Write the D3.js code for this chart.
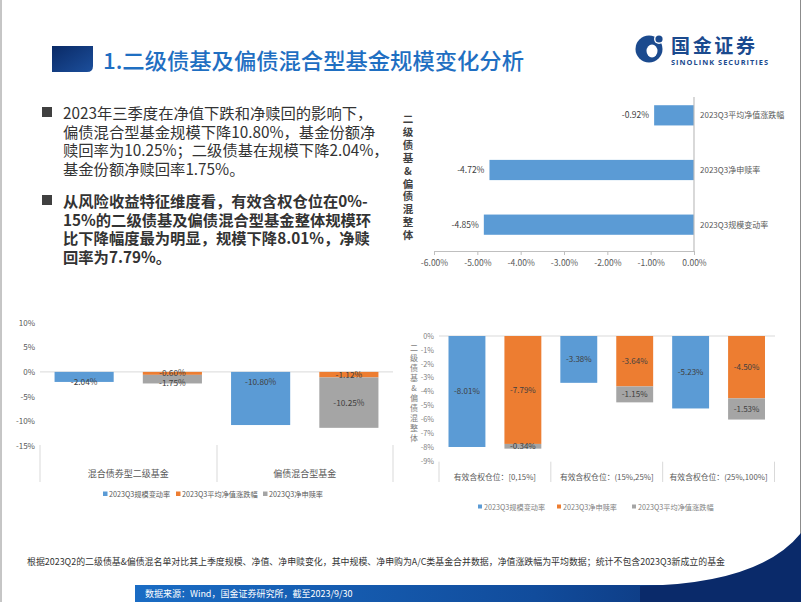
<!DOCTYPE html>
<html>
<head>
<meta charset="utf-8">
<script src="https://cdn.jsdelivr.net/npm/d3@7"></script>
<style>
  html, body { margin: 0; padding: 0; background: #fff; }
  svg { display: block; font-family: "Noto Sans CJK SC", "Noto Sans", sans-serif; }
</style>
</head>
<body>
<div id="slide"></div>
<script>
const W = 802, H = 602;
const FONT = '"Noto Sans CJK SC", "Noto Sans", sans-serif';
const BLUE = "#5b9bd5", ORANGE = "#ed7d31", GRAY = "#a5a5a5";

// top right chart
const topCats = ["2023Q3平均净值涨跌幅", "2023Q3净申赎率", "2023Q3规模变动率"];
const topVals = [-0.92, -4.72, -4.85];
const topTicks = [-6, -5, -4, -3, -2, -1, 0];

// bottom left chart
const blCats = ["混合债券型二级基金", "偏债混合型基金"];
const blScale = [-2.04, -10.80];
const blNav = [-0.60, -1.12];
const blFlow = [-1.75, -10.25];
const blTicks = [10, 5, 0, -5, -10, -15];

// bottom right chart
const brCats = ["有效含权仓位：[0,15%]", "有效含权仓位：(15%,25%]", "有效含权仓位：(25%,100%]"];
const brScale = [-8.01, -3.38, -5.23];
const brFlow = [-7.79, -3.64, -4.50];
const brNav = [-0.34, -1.15, -1.53];
const brTicks = [0, -1, -2, -3, -4, -5, -6, -7, -8, -9];

const axisTitle = "二级债基&偏债混整体";

const bullet1 = [
  "2023年三季度在净值下跌和净赎回的影响下，",
  "偏债混合型基金规模下降10.80%，基金份额净",
  "赎回率为10.25%；二级债基在规模下降2.04%，",
  "基金份额净赎回率1.75%。"
];
const bullet2 = [
  "从风险收益特征维度看，有效含权仓位在0%-",
  "15%的二级债基及偏债混合型基金整体规模环",
  "比下降幅度最为明显，规模下降8.01%，净赎",
  "回率为7.79%。"
];

const svg = d3.select("#slide").append("svg")
  .attr("width", W).attr("height", H)
  .attr("viewBox", `0 0 ${W} ${H}`);

const defs = svg.append("defs");
const g1 = defs.append("linearGradient").attr("id", "sq").attr("x1", 0).attr("y1", 0).attr("x2", 1).attr("y2", 1);
g1.append("stop").attr("offset", 0).attr("stop-color", "#0a2a66");
g1.append("stop").attr("offset", 1).attr("stop-color", "#1c4f9c");
const g2 = defs.append("linearGradient").attr("id", "band").attr("x1", 0).attr("y1", 0).attr("x2", 1).attr("y2", 0);
g2.append("stop").attr("offset", 0).attr("stop-color", "#1a6cc4");
g2.append("stop").attr("offset", 0.6).attr("stop-color", "#114c9c");
g2.append("stop").attr("offset", 1).attr("stop-color", "#0a2a6a");

// slide frame
svg.append("line").attr("x1", 1).attr("x2", 1).attr("y1", 0).attr("y2", H).attr("stroke", "#8c8c8c");
svg.append("line").attr("x1", 800.5).attr("x2", 800.5).attr("y1", 0).attr("y2", H).attr("stroke", "#8c8c8c");

// title
svg.append("path")
  .attr("d", "M52,46 H93 V66 Q93,72 87,72 H52 Z")
  .attr("fill", "url(#sq)");
svg.append("text").attr("x", 103).attr("y", 69)
  .attr("font-size", 22).attr("fill", "#1f6fc2").attr("font-weight", 500)
  .attr("textLength", 421).attr("lengthAdjust", "spacingAndGlyphs")
  .text("1.二级债基及偏债混合型基金规模变化分析");

// logo
const logo = svg.append("g");
logo.append("circle").attr("cx", 649).attr("cy", 49).attr("r", 13.5).attr("fill", "#1b4a8e");
logo.append("ellipse").attr("cx", 652).attr("cy", 51).attr("rx", 5.5).attr("ry", 6.5).attr("fill", "#fff");
logo.append("circle").attr("cx", 659).attr("cy", 39).attr("r", 5).attr("fill", "#fff");
logo.append("circle").attr("cx", 659).attr("cy", 39).attr("r", 3.6).attr("fill", "#1b4a8e");
logo.append("text").attr("x", 671).attr("y", 52.5).attr("font-size", 19).attr("font-weight", 700)
  .attr("fill", "#1b4a8e").attr("textLength", 84).text("国金证券");
logo.append("text").attr("x", 671).attr("y", 64.5).attr("font-size", 7.4).attr("font-weight", 700)
  .attr("fill", "#1b4a8e").attr("font-family", "'Open Sans', 'Noto Sans', sans-serif")
  .attr("textLength", 97).text("SINOLINK SECURITIES");

// bullets
function drawBullet(lines, y0, bold) {
  svg.append("rect").attr("x", 42).attr("y", y0 - 12).attr("width", 10).attr("height", 10).attr("fill", "#404040");
  lines.forEach((t, i) => {
    svg.append("text").attr("x", 63).attr("y", y0 + i * 18.6)
      .attr("font-size", 15.3).attr("fill", "#333")
      .attr("font-weight", bold ? 700 : 400)
      .text(t);
  });
}
drawBullet(bullet1, 119, false);
drawBullet(bullet2, 207, true);

function pct2(v) { return v.toFixed(2) + "%"; }

// ---------- top right horizontal bars ----------
{
  const x = d3.scaleLinear().domain([-6, 0]).range([434, 694]);
  const y = d3.scaleBand().domain(topCats).range([88, 252]).paddingInner(0.63).paddingOuter(0.315);
  const g = svg.append("g");

  g.selectAll("rect.bar").data(topCats).join("rect")
    .attr("x", (d, i) => x(topVals[i]))
    .attr("y", d => y(d))
    .attr("width", (d, i) => x(0) - x(topVals[i]))
    .attr("height", y.bandwidth())
    .attr("fill", BLUE);

  g.selectAll("text.val").data(topCats).join("text")
    .attr("x", (d, i) => x(topVals[i]) - 5)
    .attr("y", d => y(d) + y.bandwidth() / 2 + 3)
    .attr("text-anchor", "end").attr("font-size", 8.5).attr("fill", "#404040")
    .text((d, i) => pct2(topVals[i]));

  g.selectAll("text.cat").data(topCats).join("text")
    .attr("x", x(0) + 6)
    .attr("y", d => y(d) + y.bandwidth() / 2 + 3)
    .attr("font-size", 8).attr("fill", "#595959")
    .text(d => d);

  g.append("line").attr("x1", x(0)).attr("x2", x(0)).attr("y1", 97).attr("y2", 251)
    .attr("stroke", "#bfbfbf").attr("stroke-width", 1.2);

  const ax = g.append("g").attr("transform", "translate(0,251)")
    .call(d3.axisBottom(x).tickValues(topTicks).tickSize(4).tickFormat(d => pct2(d)));
  ax.select(".domain").attr("stroke", "#bfbfbf");
  ax.selectAll(".tick line").attr("stroke", "#bfbfbf");
  ax.selectAll(".tick text").attr("font-size", 8.5).attr("fill", "#595959")
    .attr("font-family", FONT).attr("dy", "0.9em");

  axisTitle.split("").forEach((c, i) => {
    g.append("text").attr("x", 408).attr("y", 123 + i * 12.9)
      .attr("text-anchor", "middle").attr("font-size", 10.5).attr("font-weight", 700)
      .attr("fill", "#404040").text(c);
  });
}

// stacked segment labels, nudged apart when too close
function stackLabels(g, cx, segs, y, fs) {
  let prev = -Infinity, base = 0;
  segs.forEach(v => {
    let cy = (y(base) + y(base + v)) / 2;
    if (cy - prev < 10) cy = prev + 10;
    g.append("text").attr("x", cx).attr("y", cy + 3)
      .attr("text-anchor", "middle").attr("font-size", fs).attr("fill", "#404040")
      .text(pct2(v));
    prev = cy;
    base += v;
  });
}

// ---------- bottom left grouped/stacked bars ----------
{
  const x0 = d3.scaleBand().domain(blCats).range([40, 393]);
  const x1 = d3.scaleBand().domain([0, 1]).range([0, x0.bandwidth()]).paddingInner(0.33).paddingOuter(0.165);
  const y = d3.scaleLinear().domain([-15, 10]).range([445.7, 322.7]);
  const g = svg.append("g");

  const ax = g.append("g").attr("transform", "translate(35,0)")
    .call(d3.axisLeft(y).tickValues(blTicks).tickSize(0).tickPadding(0).tickFormat(d => d + "%"));
  ax.select(".domain").remove();
  ax.selectAll(".tick text").attr("font-size", 8).attr("fill", "#595959").attr("font-family", FONT);

  g.append("line").attr("x1", 40).attr("x2", 393).attr("y1", y(0)).attr("y2", y(0))
    .attr("stroke", "#d9d9d9");

  blCats.forEach((c, i) => {
    const bx = x0(c) + x1(0);
    g.append("rect").attr("x", bx).attr("y", y(0)).attr("width", x1.bandwidth())
      .attr("height", y(blScale[i]) - y(0)).attr("fill", BLUE);
    g.append("text").attr("x", bx + x1.bandwidth() / 2).attr("y", y(0) + 13)
      .attr("text-anchor", "middle").attr("font-size", 8.3).attr("fill", "#404040")
      .text(pct2(blScale[i]));

    const sx = x0(c) + x1(1);
    g.append("rect").attr("x", sx).attr("y", y(0)).attr("width", x1.bandwidth())
      .attr("height", y(blNav[i]) - y(0)).attr("fill", ORANGE);
    g.append("rect").attr("x", sx).attr("y", y(blNav[i])).attr("width", x1.bandwidth())
      .attr("height", y(blNav[i] + blFlow[i]) - y(blNav[i])).attr("fill", GRAY);
    stackLabels(g, sx + x1.bandwidth() / 2, [blNav[i], blFlow[i]], y, 8.3);

    g.append("text").attr("x", x0(c) + x0.bandwidth() / 2).attr("y", 477)
      .attr("text-anchor", "middle").attr("font-size", 9).attr("fill", "#595959").text(c);
  });
  [40, 217, 393].forEach(v => {
    g.append("line").attr("x1", v).attr("x2", v).attr("y1", 445).attr("y2", 482)
      .attr("stroke", "#d9d9d9");
  });

  const legend = [["2023Q3规模变动率", BLUE, 103], ["2023Q3平均净值涨跌幅", ORANGE, 176], ["2023Q3净申赎率", GRAY, 263]];
  legend.forEach(([t, col, lx]) => {
    g.append("rect").attr("x", lx).attr("y", 491.5).attr("width", 4.5).attr("height", 4.5).attr("fill", col);
    g.append("text").attr("x", lx + 6).attr("y", 497).attr("font-size", 7.2).attr("fill", "#595959").text(t);
  });
}

// ---------- bottom right grouped/stacked bars ----------
{
  const x0 = d3.scaleBand().domain(brCats).range([439, 774.5]);
  const x1 = d3.scaleBand().domain([0, 1]).range([0, x0.bandwidth()]).paddingInner(0.34).paddingOuter(0.17);
  const y = d3.scaleLinear().domain([-9, 0]).range([460.7, 336]);
  const g = svg.append("g");

  const ax = g.append("g").attr("transform", "translate(434,0)")
    .call(d3.axisLeft(y).tickValues(brTicks).tickSize(0).tickPadding(0).tickFormat(d => d + "%"));
  ax.select(".domain").remove();
  ax.selectAll(".tick text").attr("font-size", 7.3).attr("fill", "#7f7f7f").attr("font-family", FONT);

  g.append("line").attr("x1", 439).attr("x2", 775).attr("y1", y(0)).attr("y2", y(0))
    .attr("stroke", "#d9d9d9");

  brCats.forEach((c, i) => {
    const bx = x0(c) + x1(0);
    g.append("rect").attr("x", bx).attr("y", y(0)).attr("width", x1.bandwidth())
      .attr("height", y(brScale[i]) - y(0)).attr("fill", BLUE);
    g.append("text").attr("x", bx + x1.bandwidth() / 2).attr("y", (y(0) + y(brScale[i])) / 2 + 3)
      .attr("text-anchor", "middle").attr("font-size", 8).attr("fill", "#404040")
      .text(pct2(brScale[i]));

    const sx = x0(c) + x1(1);
    g.append("rect").attr("x", sx).attr("y", y(0)).attr("width", x1.bandwidth())
      .attr("height", y(brFlow[i]) - y(0)).attr("fill", ORANGE);
    g.append("rect").attr("x", sx).attr("y", y(brFlow[i])).attr("width", x1.bandwidth())
      .attr("height", y(brFlow[i] + brNav[i]) - y(brFlow[i])).attr("fill", GRAY);
    stackLabels(g, sx + x1.bandwidth() / 2, [brFlow[i], brNav[i]], y, 8);

    g.append("text").attr("x", x0(c) + x0.bandwidth() / 2).attr("y", 479.5)
      .attr("text-anchor", "middle").attr("font-size", 7.8).attr("fill", "#595959").text(c);
  });
  x0.domain().map(d => x0(d)).concat([774.5]).forEach(v => {
    g.append("line").attr("x1", v).attr("x2", v).attr("y1", 461.7).attr("y2", 482)
      .attr("stroke", "#d9d9d9");
  });

  axisTitle.split("").forEach((c, i) => {
    g.append("text").attr("x", 414).attr("y", 351 + i * 10)
      .attr("text-anchor", "middle").attr("font-size", 8)
      .attr("fill", "#7f7f7f").text(c);
  });

  const legend = [["2023Q3规模变动率", BLUE, 478], ["2023Q3净申赎率", ORANGE, 557], ["2023Q3平均净值涨跌幅", GRAY, 632]];
  legend.forEach(([t, col, lx]) => {
    g.append("rect").attr("x", lx).attr("y", 504.5).attr("width", 4).attr("height", 4).attr("fill", col);
    g.append("text").attr("x", lx + 6).attr("y", 509.5).attr("font-size", 7.2).attr("fill", "#7f7f7f").text(t);
  });
}

// footnote
svg.append("text").attr("x", 27).attr("y", 565).attr("font-size", 9.2).attr("fill", "#333")
  .attr("textLength", 698).attr("lengthAdjust", "spacingAndGlyphs")
  .text("根据2023Q2的二级债基&偏债混名单对比其上季度规模、净值、净申赎变化，其中规模、净申购为A/C类基金合并数据，净值涨跌幅为平均数据；统计不包含2023Q3新成立的基金");

// bottom band and swoosh
svg.append("rect").attr("x", 135).attr("y", 585).attr("width", 666).attr("height", 17).attr("fill", "url(#band)");
svg.append("path").attr("d", "M640,586 Q760,584 801,533 L801,602 L640,602 Z").attr("fill", "#0a2a6a");
svg.append("text").attr("x", 145).attr("y", 597).attr("font-size", 9).attr("fill", "#fff")
  .text("数据来源：Wind，国金证券研究所，截至2023/9/30");
</script>
</body>
</html>
